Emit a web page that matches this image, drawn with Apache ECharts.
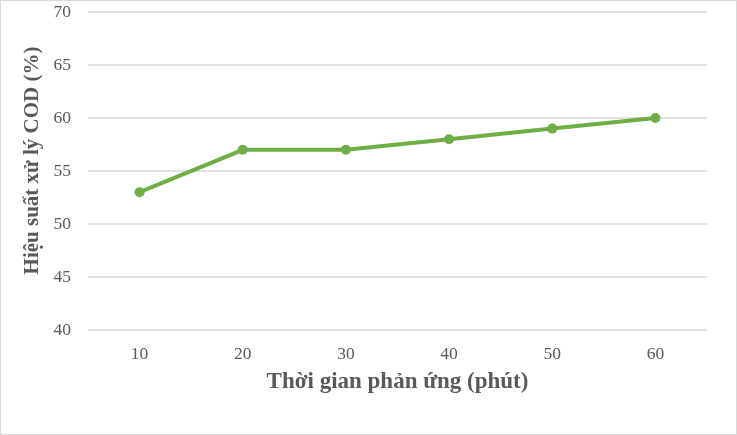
<!DOCTYPE html>
<html><head><meta charset="utf-8">
<script src="https://cdn.jsdelivr.net/npm/echarts@6/dist/echarts.min.js"></script>
<style>html,body{margin:0;padding:0;background:#fff}#c{width:737px;height:435px;box-sizing:border-box;border:1px solid #d9d9d9}</style>
</head><body><div id="c"></div>
<script>
const categories = ['10','20','30','40','50','60'];
const values = [53, 57, 57, 58, 59, 60];
const chart = echarts.init(document.getElementById('c'));
const font = '"Liberation Serif", "Times New Roman", serif';
chart.setOption({
  animation: false,
  grid: {left: 87, right: 29, top: 11, bottom: 104},
  xAxis: {
    type: 'category', data: categories, boundaryGap: true,
    name: 'Thời gian phản ứng (phút)', nameLocation: 'middle', nameGap: 41,
    nameTextStyle: {fontFamily: font, fontSize: 23, fontWeight: 'bold', color: '#595959'},
    axisLine: {show: false}, axisTick: {show: false},
    axisLabel: {fontFamily: font, fontSize: 17.5, color: '#595959', margin: 15}
  },
  yAxis: {
    type: 'value', min: 40, max: 70, interval: 5,
    name: 'Hiệu suất xử lý COD (%)', nameLocation: 'middle', nameGap: 32,
    nameTextStyle: {fontFamily: font, fontSize: 21, fontWeight: 'bold', color: '#595959', padding: [0, 0, 0, 21]},
    axisLine: {show: false}, axisTick: {show: false},
    axisLabel: {fontFamily: font, fontSize: 17.5, color: '#595959', margin: 17},
    splitLine: {lineStyle: {color: '#d9d9d9', width: 1.5}}
  },
  series: [{
    type: 'line', data: values,
    lineStyle: {color: '#70AD47', width: 4},
    itemStyle: {color: '#70AD47'},
    symbol: 'circle', symbolSize: 10
  }]
});
</script></body></html>
